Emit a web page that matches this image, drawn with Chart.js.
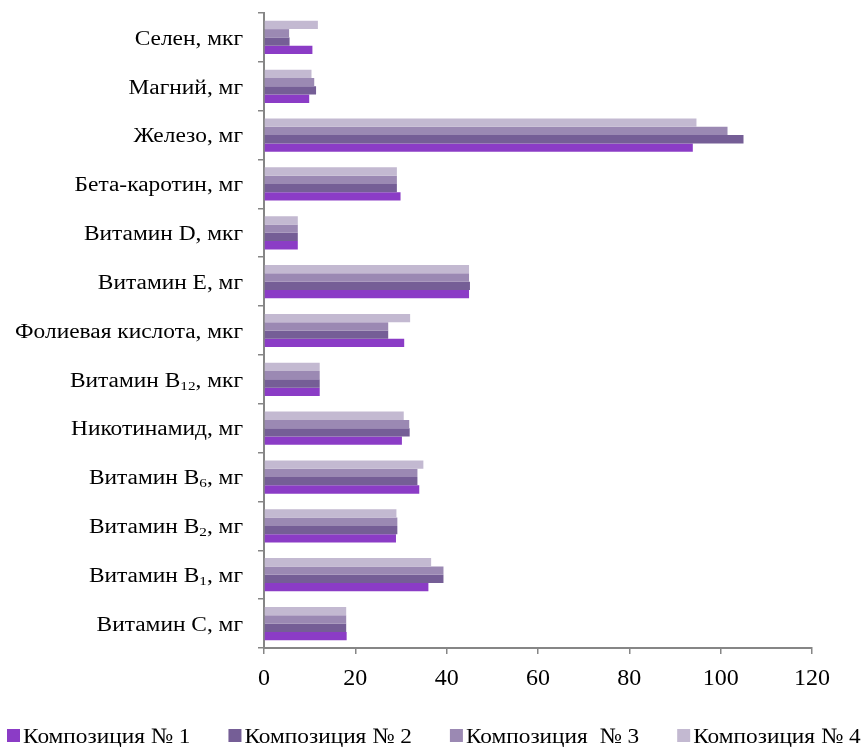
<!DOCTYPE html>
<html>
<head>
<meta charset="utf-8">
<script src="https://cdn.jsdelivr.net/npm/chart.js@4.4.1/dist/chart.umd.min.js"></script>
<style>
html,body{margin:0;padding:0;background:#fff;}
#wrap{width:865px;height:747px;}
</style>
</head>
<body>
<div id="wrap"><canvas id="c" width="865" height="747"></canvas></div>
<script>
// Categories listed from the bottom of the chart upwards ("_n" marks a subscript)
const categories = ['Витамин C, мг','Витамин B_1, мг','Витамин B_2, мг','Витамин B_6, мг','Никотинамид, мг','Витамин B_12, мкг','Фолиевая кислота, мкг','Витамин E, мг','Витамин D, мкг','Бета-каротин, мг','Железо, мг','Магний, мг','Селен, мкг'];
const seriesNames = ['Композиция № 1','Композиция № 2','Композиция  № 3','Композиция № 4'];
const comp1 = [18.1, 36.0, 28.9, 34.0, 30.2, 12.2, 30.7, 44.9, 7.4, 29.9, 93.9, 9.9, 10.6];
const comp2 = [18.0, 39.3, 29.2, 33.6, 31.9, 12.2, 27.2, 45.1, 7.4, 29.1, 105.0, 11.4, 5.6];
const comp3 = [18.0, 39.3, 29.2, 33.6, 31.8, 12.2, 27.2, 44.9, 7.4, 29.1, 101.5, 11.0, 5.5];
const comp4 = [18.0, 36.6, 29.0, 34.9, 30.6, 12.2, 32.0, 44.9, 7.4, 29.1, 94.7, 10.4, 11.8];
const xTicks = [0, 20, 40, 60, 80, 100, 120];

const colors = ['#8B3CC6', '#755E96', '#9B89B3', '#C3B9D1'];
const FONT = "'Liberation Serif', 'Times New Roman', serif";
const AXIS = '#868686';

const series = [comp1, comp2, comp3, comp4].map((d, i) => ({
  label: seriesNames[i],
  data: d,
  backgroundColor: colors[i],
  borderWidth: 0,
  categoryPercentage: 0.68,
  barPercentage: 1.0
}));

function drawStretched(ctx, text, x, y, sx) {
  ctx.save();
  ctx.translate(x, y);
  ctx.scale(sx, 1);
  ctx.fillText(text, 0, 0);
  ctx.restore();
}

const richLabels = {
  id: 'richLabels',
  afterDraw(chart) {
    const ctx = chart.ctx;
    const y = chart.scales.y;
    const rightX = 243;
    const SX = 1.17;
    ctx.save();
    ctx.fillStyle = '#000';
    ctx.textBaseline = 'middle';
    ctx.textAlign = 'left';
    categories.forEach((lab, i) => {
      const py = y.getPixelForValue(i) + 2;
      const parts = [];
      const re = /_(\d+)/g;
      let last = 0, m;
      while ((m = re.exec(lab)) !== null) {
        if (m.index > last) parts.push({t: lab.slice(last, m.index), sub: false});
        parts.push({t: m[1], sub: true});
        last = m.index + m[0].length;
      }
      if (last < lab.length) parts.push({t: lab.slice(last), sub: false});
      let total = 0;
      parts.forEach(p => {
        ctx.font = (p.sub ? '13px ' : '20px ') + FONT;
        p.w = ctx.measureText(p.t).width * SX;
        total += p.w;
      });
      let x = rightX - total;
      parts.forEach(p => {
        ctx.font = (p.sub ? '13px ' : '20px ') + FONT;
        drawStretched(ctx, p.t, x, p.sub ? py + 5 : py, SX);
        x += p.w;
      });
    });

    // legend along the bottom
    const ds = chart.data.datasets.slice().reverse();
    ctx.font = '22px ' + FONT;
    ctx.textBaseline = 'alphabetic';
    const LSX = 1.06, box = 13, baseY = 743;
    let lx = 7;
    ds.forEach((d) => {
      ctx.fillStyle = d.backgroundColor;
      ctx.fillRect(lx, 729, box, box);
      ctx.fillStyle = '#000';
      const tx = lx + box + 3;
      drawStretched(ctx, d.label, tx, baseY, LSX);
      lx = tx + ctx.measureText(d.label).width * LSX + 38;
    });
    ctx.restore();
  }
};

new Chart(document.getElementById('c'), {
  type: 'bar',
  data: {
    labels: categories,
    datasets: series.slice().reverse()
  },
  options: {
    indexAxis: 'y',
    responsive: false,
    animation: false,
    devicePixelRatio: 1,
    layout: {padding: {left: 0, right: 53, top: 13, bottom: 0}},
    scales: {
      x: {
        min: 0, max: 120,
        afterBuildTicks(scale) { scale.ticks = xTicks.map(v => ({value: v})); },
        afterFit(scale) { scale.height = 99; },
        grid: {drawOnChartArea: false, drawTicks: true, tickLength: 6, color: AXIS, lineWidth: 1.5},
        border: {color: AXIS, width: 2},
        ticks: {color: '#000', font: {family: FONT, size: 24}, padding: 10, maxRotation: 0}
      },
      y: {
        reverse: true,
        afterFit(scale) { scale.width = 264; },
        grid: {drawOnChartArea: false, drawTicks: true, tickLength: 6, color: AXIS, lineWidth: 1.5, offset: true},
        border: {color: AXIS, width: 2},
        ticks: {display: false}
      }
    },
    plugins: {
      legend: {display: false},
      tooltip: {enabled: false}
    }
  },
  plugins: [richLabels]
});
</script>
</body>
</html>
